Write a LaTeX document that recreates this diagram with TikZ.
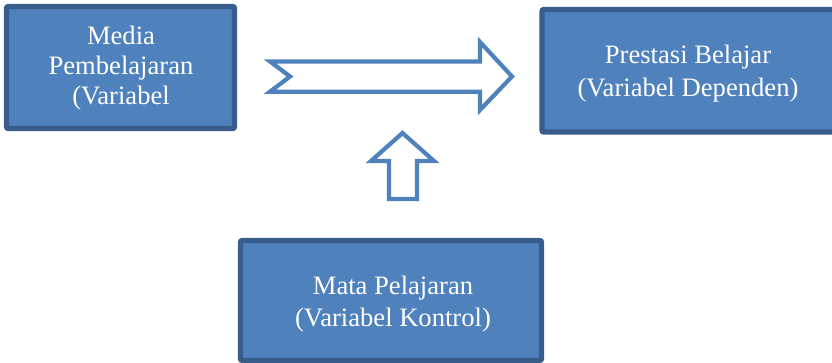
\documentclass[tikz,border=0pt]{standalone}
\usepackage{fontspec}
\setmainfont{Liberation Serif}
\definecolor{boxfill}{HTML}{4F81BD}
\definecolor{boxline}{HTML}{385D8A}
\begin{document}
\begin{tikzpicture}[x=0.5pt,y=-0.5pt,
  varbox/.style={draw=boxline,fill=boxfill,line width=2.7pt,rounded corners=1pt},
  boxtext/.style={anchor=base,text=white,inner sep=0pt,font=\fontsize{13.3}{15.5}\selectfont},
  blockarrow/.style={draw=boxfill,fill=white,line width=2.1pt,line join=miter}]
\useasboundingbox (0,0) rectangle (832,363);
\clip (0,0) rectangle (832,363);

% variable boxes
\path[varbox] (6.5,6.5) rectangle (234.5,128.5);
\node[inner sep=0pt] (media) at (120.5,67.5) {};
\path[varbox] (542,9.5) rectangle (836,132);
\node[inner sep=0pt] (prestasi) at (689,70.75) {};
\path[varbox] (240.5,240.5) rectangle (541.5,360.5);
\node[inner sep=0pt] (mapel) at (391,300.5) {};

% box labels
\node[boxtext] (m1) at (121,44.5) {Media};
\node[boxtext] (m2) at (121,75) {Pembelajaran};
\node[boxtext] (m3) at (121,105) {(Variabel};
\node[boxtext] (p1) at (688,63.5) {Prestasi Belajar};
\node[boxtext] (p2) at (688,97) {(Variabel Dependen)};
\node[boxtext] (k1) at (393,295) {Mata Pelajaran};
\node[boxtext] (k2) at (393,327) {(Variabel Kontrol)};

% block arrow: media -> prestasi
\draw[blockarrow] (270,61.5) -- (480,61.5) -- (480,42) -- (512,76.5)
  -- (480,110) -- (480,91.7) -- (270,91.7) -- (290,76.5) -- cycle;

% block arrow: mata pelajaran -> upward
\draw[blockarrow] (389,199) -- (389,161) -- (371,161) -- (402.5,133)
  -- (434,161) -- (417,161) -- (417,199) -- cycle;
\end{tikzpicture}
\end{document}
